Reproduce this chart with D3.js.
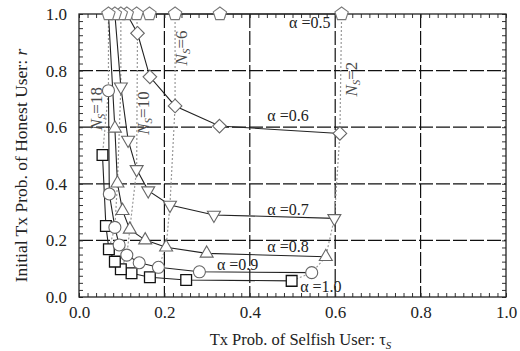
<!DOCTYPE html>
<html>
<head>
<meta charset="utf-8">
<script src="https://cdn.jsdelivr.net/npm/d3@7"></script>
<style>
  body { margin: 0; background: #fff; }
  text { font-family: "Liberation Serif", "Times New Roman", serif; fill: #222; }
</style>
</head>
<body>
<div id="chart"></div>
<script>
// Número de usuários egoístas (N_S) para cada ponto
const nS = [2, 4, 6, 8, 10, 12, 14, 16, 18];

// tau_S e r por alpha (r = 1 -> só linha, sem marcador; null -> não existe)
const tau05 = [0.615, 0.330, 0.225, 0.165, 0.135, 0.112, 0.098, 0.084, 0.069];
const r05   = [1, 1, 1, 1, 1, 1, 1, 1, 1];
const tau06 = [0.611, 0.329, 0.225, 0.166, 0.137, 0.112, null, null, null];
const r06   = [0.578, 0.604, 0.675, 0.778, 0.932, 1, null, null, null];
const tau07 = [0.598, 0.316, 0.213, 0.162, 0.135, 0.115, 0.098, 0.084, null];
const r07   = [0.278, 0.290, 0.325, 0.376, 0.451, 0.555, 0.743, 1, null];
const tau08 = [0.578, 0.299, 0.204, 0.155, 0.119, 0.102, 0.090, 0.084, 0.069];
const r08   = [0.142, 0.154, 0.176, 0.201, 0.239, 0.305, 0.402, 0.596, 1];
const tau09 = [0.545, 0.282, 0.186, 0.141, 0.112, 0.094, 0.084, 0.071, 0.069];
const r09   = [0.086, 0.089, 0.105, 0.121, 0.148, 0.184, 0.246, 0.364, 0.729];
const tau10 = [0.498, 0.251, 0.166, 0.123, 0.098, 0.084, 0.070, 0.063, 0.055];
const r10   = [0.057, 0.060, 0.070, 0.084, 0.098, 0.125, 0.169, 0.251, 0.502];

const alphas = ['0.5', '0.6', '0.7', '0.8', '0.9', '1.0'];
const nsLines = [2, 6, 10, 14, 18];

const xTicks = [0, 0.2, 0.4, 0.6, 0.8, 1.0];
const yTicks = [0, 0.2, 0.4, 0.6, 0.8, 1.0];

const margin = {top: 14, right: 14, bottom: 54, left: 79};
const W = 520, H = 351;
const width = W - margin.left - margin.right;
const height = H - margin.top - margin.bottom;

const svg = d3.select('#chart').append('svg')
    .attr('width', W)
    .attr('height', H)
    .append('g')
    .attr('transform', `translate(${margin.left},${margin.top})`);

const x = d3.scaleLinear().domain([0, 1]).range([0, width]);
const y = d3.scaleLinear().domain([0, 1]).range([height, 0]);

// Grade tracejada
svg.append('g')
    .selectAll('line')
    .data(xTicks.slice(1, -1))
    .enter().append('line')
    .attr('x1', d => x(d)).attr('x2', d => x(d))
    .attr('y1', 0).attr('y2', height)
    .attr('stroke', '#111').attr('stroke-width', 1.2)
    .attr('stroke-dasharray', '14,3');

svg.append('g')
    .selectAll('line')
    .data(yTicks.slice(1, -1))
    .enter().append('line')
    .attr('y1', d => y(d)).attr('y2', d => y(d))
    .attr('x1', 0).attr('x2', width)
    .attr('stroke', '#111').attr('stroke-width', 1.2)
    .attr('stroke-dasharray', '14,3');

// Ticks menores para dentro, nos quatro lados
const xMinor = d3.range(0, 1.0001, 0.02);
const yMinor = d3.range(0, 1.0001, 0.025);

svg.append('g')
    .attr('transform', `translate(0,${height})`)
    .call(d3.axisBottom(x).tickValues(xMinor).tickSize(-4).tickFormat(''))
    .call(g => g.select('.domain').remove());
svg.append('g')
    .call(d3.axisTop(x).tickValues(xMinor).tickSize(-4).tickFormat(''))
    .call(g => g.select('.domain').remove());
svg.append('g')
    .call(d3.axisLeft(y).tickValues(yMinor).tickSize(-4).tickFormat(''))
    .call(g => g.select('.domain').remove());
svg.append('g')
    .attr('transform', `translate(${width},0)`)
    .call(d3.axisRight(y).tickValues(yMinor).tickSize(-4).tickFormat(''))
    .call(g => g.select('.domain').remove());

svg.selectAll('.tick line').attr('stroke', '#333');

// Rótulos dos eixos
svg.append('g')
    .attr('transform', `translate(0,${height})`)
    .call(d3.axisBottom(x).tickValues(xTicks).tickSize(0).tickPadding(9).tickFormat(d3.format('.1f')))
    .call(g => g.select('.domain').remove())
    .selectAll('text')
    .style('font-size', '17px')
    .style('font-family', '"Liberation Serif", serif')
    .attr('fill', '#222');

svg.append('g')
    .call(d3.axisLeft(y).tickValues(yTicks).tickSize(0).tickPadding(12).tickFormat(d3.format('.1f')))
    .call(g => g.select('.domain').remove())
    .selectAll('text')
    .style('font-size', '17px')
    .style('font-family', '"Liberation Serif", serif')
    .attr('fill', '#222');

// Moldura
svg.append('rect')
    .attr('width', width).attr('height', height)
    .attr('fill', 'none').attr('stroke', '#222').attr('stroke-width', 1.3);

// Séries
const tauAll = [tau05, tau06, tau07, tau08, tau09, tau10];
const rAll = [r05, r06, r07, r08, r09, r10];

const series = alphas.map((a, k) => ({
    alpha: a,
    points: nS.map((n, i) => ({n: n, tau: tauAll[k][i], r: rAll[k][i], k: k}))
        .filter(p => p.tau !== null)
}));

// Linhas pontilhadas de N_S constante
const nsData = nsLines.map(n => {
    const pts = [];
    series.forEach((s, k) => {
        const p = s.points.find(q => q.n === n);
        if (p && (k === 0 || p.r < 1)) pts.push(p);
    });
    return {n: n, points: pts};
});

const line = d3.line()
    .x(d => x(d.tau))
    .y(d => y(d.r));

svg.selectAll('.ns-line')
    .data(nsData)
    .enter().append('path')
    .attr('class', 'ns-line')
    .attr('d', d => line(d.points))
    .attr('fill', 'none')
    .attr('stroke', '#999')
    .attr('stroke-width', 1.2)
    .attr('stroke-dasharray', '2,2');

// Linhas de alpha
svg.selectAll('.alpha-line')
    .data(series)
    .enter().append('path')
    .attr('class', 'alpha-line')
    .attr('d', d => line(d.points))
    .attr('fill', 'none')
    .attr('stroke', '#222')
    .attr('stroke-width', 1.1);

// Marcadores
function polygon(n, R, rot) {
    const pts = d3.range(n).map(i => {
        const a = rot + i * 2 * Math.PI / n;
        return [R * Math.sin(a), -R * Math.cos(a)];
    });
    return d3.line().curve(d3.curveLinearClosed)(pts);
}
const circlePath = (() => { const p = d3.path(); p.arc(0, 0, 6, 0, 2 * Math.PI); return p.toString(); })();

const shapes = [
    polygon(5, 7, 0),              // pentágono
    polygon(4, 6.8, 0),            // losango
    polygon(3, 7.5, Math.PI),      // triângulo invertido
    polygon(3, 7.5, 0),            // triângulo
    circlePath,                    // círculo
    polygon(4, 7.6, Math.PI / 4)   // quadrado
];
const strokes = ['#777', '#666', '#666', '#666', '#666', '#111'];

const markerData = series.slice().reverse().flatMap(s => s.points.filter(p => p.k === 0 || p.r < 1));

svg.selectAll('.marker')
    .data(markerData)
    .enter().append('path')
    .attr('class', 'marker')
    .attr('transform', d => `translate(${x(d.tau)},${y(d.r)})`)
    .attr('d', d => shapes[d.k])
    .attr('fill', '#fff')
    .attr('stroke', d => strokes[d.k])
    .attr('stroke-width', d => d.k === 5 ? 1.3 : 1.1);

// Rótulos de alpha
const alphaLabels = [
    {a: '0.5', tx: 0.492, ry: 0.951},
    {a: '0.6', tx: 0.441, ry: 0.622},
    {a: '0.7', tx: 0.441, ry: 0.290},
    {a: '0.8', tx: 0.441, ry: 0.160},
    {a: '0.9', tx: 0.323, ry: 0.095},
    {a: '1.0', tx: 0.518, ry: 0.018}
];

alphaLabels.forEach(l => {
    svg.append('text')
        .attr('x', x(l.tx))
        .attr('y', y(l.ry))
        .style('font-size', '16px')
        .text(`α =${l.a}`);
});

// Rótulos de N_S (girados)
const nsLabels = [
    {n: 18, tx: 0.055, ry: 0.665},
    {n: 10, tx: 0.165, ry: 0.650},
    {n: 6, tx: 0.254, ry: 0.880},
    {n: 2, tx: 0.650, ry: 0.770}
];

nsLabels.forEach(l => {
    const t = svg.append('text')
        .attr('transform', `translate(${x(l.tx)},${y(l.ry)}) rotate(-90)`)
        .style('text-anchor', 'middle')
        .style('font-size', '17px')
        .style('fill', '#4a4a4a');
    t.append('tspan').style('font-style', 'italic').text('N');
    t.append('tspan').style('font-style', 'italic').style('font-size', '11px').attr('dy', 3).text('S');
    t.append('tspan').attr('dy', -3).text(`=${l.n}`);
});

// Títulos dos eixos
const xt = svg.append('text')
    .attr('x', width / 2 + 8)
    .attr('y', height + margin.bottom - 6)
    .style('text-anchor', 'middle')
    .style('font-size', '16.5px');
xt.append('tspan').text('Tx Prob. of Selfish User:  τ');
xt.append('tspan').style('font-style', 'italic').style('font-size', '11px').attr('dy', 4).text('S');

const yt = svg.append('text')
    .attr('transform', `translate(${-margin.left + 27},${height / 2 + 10}) rotate(-90)`)
    .style('text-anchor', 'middle')
    .style('font-size', '17.5px');
yt.append('tspan').text('Initial Tx Prob. of Honest User:   ');
yt.append('tspan').style('font-style', 'italic').text('r');
</script>
</body>
</html>
